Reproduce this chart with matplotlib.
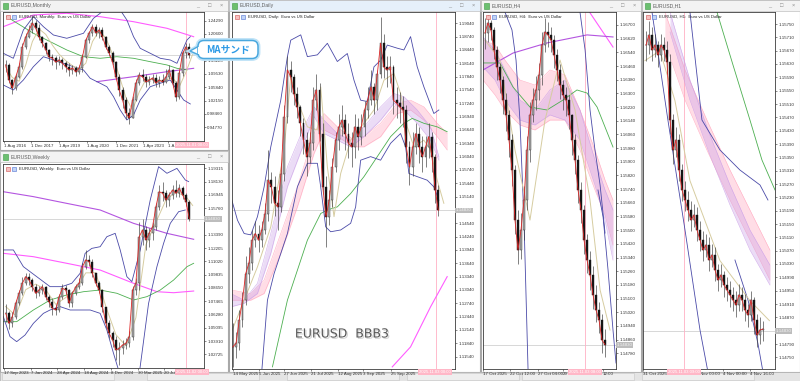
import numpy as np
import matplotlib
matplotlib.use("Agg")
import matplotlib.pyplot as plt
from matplotlib.patches import Rectangle, FancyBboxPatch, Polygon
import matplotlib.patheffects as pe

plt.rcParams['font.family'] = ['Liberation Sans', 'Noto Sans CJK JP', 'DejaVu Sans']

CUR = 1.14830  # current bid (grey line / grey box)

# ---------------- Monthly ----------------
m_close = [1.120, 1.078, 1.056, 1.087, 1.115, 1.170, 1.198, 1.217, 1.236, 1.222,
           1.198, 1.181, 1.162, 1.142, 1.139, 1.128, 1.134, 1.125, 1.115, 1.106,
           1.112, 1.101, 1.112, 1.142, 1.189, 1.209, 1.226, 1.209, 1.217, 1.198,
           1.170, 1.153, 1.128, 1.087, 1.051, 1.023, 0.987, 0.973, 1.023, 1.070,
           1.092, 1.087, 1.073, 1.078, 1.084, 1.070, 1.078, 1.073, 1.087, 1.106,
           1.070, 1.031, 1.098, 1.153, 1.170, 1.1483]
m_high = [1.135, 1.125, 1.080, 1.095, 1.125, 1.180, 1.210, 1.230, 1.255, 1.245,
          1.235, 1.200, 1.185, 1.165, 1.150, 1.145, 1.145, 1.140, 1.130, 1.125,
          1.120, 1.118, 1.120, 1.150, 1.195, 1.215, 1.235, 1.235, 1.225, 1.225,
          1.200, 1.175, 1.160, 1.130, 1.095, 1.060, 1.030, 1.000, 1.035, 1.080,
          1.100, 1.110, 1.095, 1.090, 1.095, 1.095, 1.090, 1.095, 1.110, 1.120,
          1.110, 1.075, 1.105, 1.160, 1.180, 1.180]
m_low = [1.100, 1.070, 1.040, 1.050, 1.085, 1.110, 1.165, 1.195, 1.210, 1.215,
         1.190, 1.170, 1.150, 1.130, 1.120, 1.110, 1.120, 1.110, 1.100, 1.090,
         1.095, 1.090, 1.095, 1.100, 1.140, 1.180, 1.200, 1.200, 1.195, 1.190,
         1.165, 1.145, 1.120, 1.080, 1.035, 1.000, 0.970, 0.955, 0.975, 1.020,
         1.065, 1.075, 1.060, 1.065, 1.070, 1.060, 1.060, 1.065, 1.070, 1.080,
         1.060, 1.020, 1.025, 1.090, 1.140, 1.140]
m_tan_x = [1, 5, 9, 13, 17, 21, 25, 29, 33, 37, 41, 45, 49, 53, 57, 61, 65, 69, 73,
           77, 81, 85, 89, 93, 97, 101, 105, 109, 113]
m_tan = [1.115, 1.085, 1.075, 1.120, 1.185, 1.220, 1.205, 1.175, 1.150, 1.132,
         1.118, 1.108, 1.125, 1.185, 1.215, 1.195, 1.150, 1.090, 1.030, 0.995,
         1.045, 1.080, 1.080, 1.077, 1.078, 1.085, 1.060, 1.100, 1.150]
m_pink_x = [-0.4, 17.6, 37.6, 57.6, 77.6, 97.6, 113.6]
m_pink = [1.2263, 1.2587, 1.2634, 1.2540, 1.2401, 1.2218, 1.1985]
m_purple_x = [55.6, 77.6, 97.6, 113.6]
m_purple = [1.0737, 1.0876, 1.1015, 1.1108]
m_green_x = [1.6, 17.6, 37.6, 47.6, 57.6, 67.6, 77.6, 87.6, 97.6, 103.6, 109.6]
m_green = [1.2540, 1.2080, 1.1617, 1.1430, 1.1386, 1.1430, 1.1386, 1.1292, 1.1201,
           1.1108, 1.1062]
m_bbu_x = [-0.4, 5.6, 11.6, 17.6, 23.6, 29.6, 37.6, 47.6, 53.6, 57.6, 63.6, 69.6,
           73.6, 77.6, 81.6, 87.6, 93.6, 99.6, 103.6, 109.6, 111.6]
m_bbu = [1.1525, 1.1386, 1.2171, 1.2540, 1.2263, 1.2032, 1.1941, 1.2079, 1.2496,
         1.2634, 1.2912, 1.2726, 1.2448, 1.1985, 1.1663, 1.1525, 1.1386, 1.1339,
         1.1247, 1.1894, 1.1985]
m_bbl_x = [-0.4, 5.6, 11.6, 17.6, 23.6, 29.6, 35.6, 41.6, 47.6, 51.6, 57.6, 61.6,
           65.6, 69.6, 73.6, 77.6, 81.6, 87.6, 93.6, 99.6, 103.6, 107.6, 111.6]
m_bbl = [1.0645, 1.0507, 1.0784, 1.1153, 1.1430, 1.1339, 1.1247, 1.1153, 1.1062,
         1.0832, 1.0693, 1.0598, 1.0322, 0.9952, 0.9675, 0.9813, 1.0229, 1.0598,
         1.0693, 1.0784, 1.0507, 1.0229, 1.0119]
m_yticks = [1.24290, 1.20600, 1.13220, 1.09530, 1.05840, 1.02150, 0.98460, 0.94770]
m_xticks = [0, 16, 33, 50, 67, 83, 98.5]
m_xlabels = ['1 Aug 2016', '1 Dec 2017', '1 Apr 2019', '1 Aug 2020', '1 Dec 2021',
             '1 Apr 2023', '1 A']

# ---------------- Weekly ----------------
w_close = [1.0639, 1.0550, 1.0610, 1.0728, 1.0818, 1.0907, 1.0966, 1.0936, 1.0877, 1.0818,
           1.0847, 1.0877, 1.0788, 1.0743, 1.0684, 1.0669, 1.0788, 1.0862, 1.0847, 1.0728,
           1.0818, 1.0877, 1.0907, 1.1055, 1.1115, 1.1100, 1.0996, 1.0907, 1.0847, 1.0699,
           1.0550, 1.0461, 1.0402, 1.0313, 1.0327, 1.0357, 1.0372, 1.0432, 1.0847, 1.0907,
           1.1322, 1.1382, 1.1293, 1.1352, 1.1412, 1.1590, 1.1723, 1.1709, 1.1649, 1.1694,
           1.1738, 1.1709, 1.1753, 1.1694, 1.1634, 1.1483]
w_high = [1.0720, 1.0660, 1.0650, 1.0760, 1.0850, 1.0960, 1.1000, 1.1000, 1.0950, 1.0900,
          1.0880, 1.0900, 1.0880, 1.0800, 1.0780, 1.0720, 1.0810, 1.0900, 1.0890, 1.0860,
          1.0840, 1.0900, 1.0950, 1.1090, 1.1200, 1.1160, 1.1120, 1.1000, 1.0930, 1.0860,
          1.0700, 1.0580, 1.0480, 1.0440, 1.0380, 1.0400, 1.0420, 1.0480, 1.0880, 1.0950,
          1.1450, 1.1480, 1.1420, 1.1400, 1.1450, 1.1620, 1.1780, 1.1810, 1.1740, 1.1720,
          1.1780, 1.1830, 1.1790, 1.1770, 1.1710, 1.1650]
w_low = [1.0560, 1.0500, 1.0520, 1.0590, 1.0710, 1.0800, 1.0890, 1.0890, 1.0840, 1.0780,
         1.0790, 1.0810, 1.0760, 1.0700, 1.0620, 1.0620, 1.0650, 1.0770, 1.0810, 1.0700,
         1.0700, 1.0800, 1.0860, 1.0890, 1.1030, 1.1060, 1.0960, 1.0880, 1.0820, 1.0650,
         1.0510, 1.0420, 1.0340, 1.0220, 1.0180, 1.0280, 1.0320, 1.0340, 1.0400, 1.0800,
         1.0850, 1.1250, 1.1200, 1.1230, 1.1290, 1.1380, 1.1560, 1.1640, 1.1590, 1.1600,
         1.1660, 1.1680, 1.1680, 1.1660, 1.1600, 1.1460]
w_tan_x = [1, 7, 13, 19, 25, 31, 37, 43, 49, 55, 61, 67, 73, 79, 85, 91, 97, 103, 109, 113]
w_tan = [1.070, 1.062, 1.085, 1.090, 1.085, 1.072, 1.078, 1.085, 1.100, 1.100,
         1.070, 1.045, 1.035, 1.060, 1.125, 1.145, 1.165, 1.172, 1.168, 1.160]
w_bbu_x = [-0.4, 5.6, 11.6, 19.6, 27.6, 34.6, 40.6, 45.6, 48.6, 52.6, 57.6, 61.6, 66.6,
           69.6, 73.6, 76.6, 81.6, 87.6, 92.6, 97.6, 103.6, 108.6, 110.6]
w_bbu = [1.1204, 1.1204, 1.1055, 1.0966, 1.0877, 1.0877, 1.0907, 1.0996, 1.1174, 1.1218,
         1.1233, 1.1322, 1.1352, 1.1204, 1.0966, 1.0922, 1.1204, 1.1649, 1.1946, 1.1887,
         1.1931, 1.1827, 1.1813]
w_bbl_x = [-0.4, 3.6, 7.6, 12.6, 17.6, 23.6, 27.6, 33.6, 39.6, 45.6, 51.6, 57.6, 61.6,
           65.6, 68.0, 77.6, 86.6, 91.6, 95.6, 99.6, 104.6, 108.6]
w_bbl = [1.0610, 1.0432, 1.0387, 1.0446, 1.0550, 1.0639, 1.0669, 1.0699, 1.0669, 1.0669,
         1.0669, 1.0639, 1.0491, 1.0283, 1.0164, 0.9719, 1.0728, 1.1055, 1.1263, 1.1441,
         1.1545, 1.1560]
w_green_x = [-0.4, 7.6, 17.6, 27.6, 37.6, 47.6, 57.6, 67.6, 77.6, 85.6, 93.6, 101.6, 109.6, 113.6]
w_green = [1.0565, 1.0565, 1.0669, 1.0758, 1.0803, 1.0832, 1.0847, 1.0818, 1.0758, 1.0788,
           1.0847, 1.0936, 1.1055, 1.1085]
w_purple_x = [-0.4, 17.6, 37.6, 57.6, 77.6, 97.6, 113.6]
w_purple = [1.1723, 1.1679, 1.1619, 1.1560, 1.1441, 1.1352, 1.1299]
w_pink_x = [-0.4, 17.6, 37.6, 57.6, 77.6, 91.6, 101.6, 113.6]
w_pink = [1.1174, 1.1144, 1.1085, 1.1025, 1.0907, 1.0832, 1.0823, 1.0838]
w_yticks = [1.19315, 1.18130, 1.16945, 1.15760, 1.13390, 1.12205, 1.11020,
            1.09835, 1.08650, 1.07465, 1.06280, 1.05095, 1.03910, 1.02725]
w_xticks = [0, 16, 32, 48, 64, 80, 96]
w_xlabels = ['17 Sep 2023', '7 Jan 2024', '28 Apr 2024', '18 Aug 2024', '8 Dec 2024',
             '30 Mar 2025', '20 Jul']

# ---------------- Daily ----------------
d_close = [1.1176, 1.1184, 1.1236, 1.1281, 1.1341, 1.1364, 1.1416, 1.1431, 1.1416, 1.1439,
           1.1476, 1.1551, 1.1536, 1.1499, 1.1491, 1.1566, 1.1694, 1.1799, 1.1784, 1.1746,
           1.1716, 1.1679, 1.1641, 1.1604, 1.1634, 1.1731, 1.1754, 1.1656, 1.1536, 1.1469,
           1.1506, 1.1581, 1.1641, 1.1671, 1.1686, 1.1656, 1.1634, 1.1626, 1.1671, 1.1649,
           1.1671, 1.1709, 1.1731, 1.1761, 1.1731, 1.1791, 1.1859, 1.1806, 1.1799, 1.1806,
           1.1731, 1.1724, 1.1716, 1.1709, 1.1626, 1.1581, 1.1626, 1.1656, 1.1626, 1.1604,
           1.1626, 1.1649, 1.1604, 1.1529, 1.1483]
d_high = [1.1230, 1.1210, 1.1260, 1.1300, 1.1380, 1.1400, 1.1440, 1.1460, 1.1450, 1.1460,
          1.1500, 1.1620, 1.1570, 1.1560, 1.1530, 1.1590, 1.1720, 1.1830, 1.1820, 1.1790,
          1.1760, 1.1720, 1.1690, 1.1660, 1.1660, 1.1760, 1.1790, 1.1770, 1.1680, 1.1560,
          1.1530, 1.1600, 1.1660, 1.1700, 1.1720, 1.1700, 1.1680, 1.1660, 1.1700, 1.1690,
          1.1700, 1.1730, 1.1760, 1.1800, 1.1770, 1.1800, 1.1918, 1.1880, 1.1830, 1.1830,
          1.1810, 1.1760, 1.1750, 1.1740, 1.1720, 1.1640, 1.1660, 1.1680, 1.1670, 1.1650,
          1.1650, 1.1680, 1.1660, 1.1610, 1.1540]
d_low = [1.1130, 1.1150, 1.1170, 1.1220, 1.1270, 1.1320, 1.1350, 1.1400, 1.1390, 1.1400,
         1.1430, 1.1460, 1.1500, 1.1470, 1.1440, 1.1480, 1.1550, 1.1680, 1.1750, 1.1720,
         1.1690, 1.1650, 1.1610, 1.1560, 1.1590, 1.1620, 1.1710, 1.1640, 1.1520, 1.1400,
         1.1450, 1.1490, 1.1570, 1.1620, 1.1650, 1.1620, 1.1600, 1.1580, 1.1600, 1.1620,
         1.1630, 1.1650, 1.1690, 1.1720, 1.1700, 1.1710, 1.1780, 1.1780, 1.1760, 1.1770,
         1.1700, 1.1690, 1.1680, 1.1670, 1.1590, 1.1540, 1.1560, 1.1610, 1.1590, 1.1570,
         1.1580, 1.1600, 1.1570, 1.1500, 1.1470]
d_bbu_x = [-1.2, 2.8, 6.8, 10.8, 14.8, 18.8, 22.8, 28.8, 32.8, 34.8, 38.8, 40.8, 44.8, 50.8,
           56.8, 62.8, 68.8, 72.8, 76.8, 80.8, 84.8, 88.8, 92.8, 98.8, 102.8, 106.8, 110.8,
           114.8, 120.8, 123.8]
d_bbu = [1.1514, 1.1461, 1.1431, 1.1428, 1.1469, 1.1536, 1.1626, 1.1731, 1.1829, 1.1866,
         1.1874, 1.1878, 1.1829, 1.1833, 1.1859, 1.1818, 1.1836, 1.1776, 1.1731, 1.1728,
         1.1806, 1.1821, 1.1855, 1.1848, 1.1844, 1.1874, 1.1806, 1.1761, 1.1701, 1.1709]
d_bbl_x = [16.8, 20.8, 24.8, 28.8, 32.8, 38.8, 44.8, 50.8, 52.8, 55.8, 58.8, 64.8, 70.8,
           73.8, 76.8, 82.8, 88.8, 94.8, 100.8, 103.8, 105.8, 110.8, 116.8, 120.8, 123.8]
d_bbl = [1.1094, 1.1281, 1.1341, 1.1386, 1.1431, 1.1536, 1.1589, 1.1589, 1.1536, 1.1446,
         1.1435, 1.1439, 1.1454, 1.1491, 1.1596, 1.1604, 1.1596, 1.1634, 1.1656, 1.1626,
         1.1566, 1.1559, 1.1551, 1.1536, 1.1506]
d_green_x = [23.8, 32.8, 44.8, 52.8, 56.8, 62.8, 70.8, 78.8, 86.8, 94.8, 102.8, 107.8,
             114.8, 122.8, 128.8]
d_green = [1.1131, 1.1281, 1.1416, 1.1476, 1.1484, 1.1491, 1.1521, 1.1559, 1.1604, 1.1649,
           1.1679, 1.1690, 1.1679, 1.1671, 1.1660]
d_magenta_x = [95.8, 106.8, 118.8, 128.8]
d_magenta = [1.1131, 1.1176, 1.1266, 1.1334]
d_pink_x = [-1.2, 10.8, 18.8, 28.8, 38.8, 48.8, 54.8, 62.8, 72.8, 78.8, 88.8, 98.8, 106.8,
            114.8, 122.8, 128.8]
d_pink_hi = [1.1304, 1.1296, 1.1326, 1.1431, 1.1536, 1.1656, 1.1701, 1.1671, 1.1641, 1.1649,
             1.1679, 1.1724, 1.1731, 1.1716, 1.1679, 1.1656]
d_pink_lo = [1.1281, 1.1281, 1.1296, 1.1386, 1.1491, 1.1611, 1.1664, 1.1649, 1.1626, 1.1626,
             1.1649, 1.1701, 1.1709, 1.1686, 1.1649, 1.1619]
d_lav_x = [-1.2, 6.8, 14.8, 22.8, 32.8, 42.8, 48.8, 54.8, 62.8, 70.8, 78.8, 88.8, 96.8,
           102.8, 110.8, 118.8, 123.8]
d_lav_hi = [1.1296, 1.1281, 1.1319, 1.1431, 1.1581, 1.1671, 1.1716, 1.1686, 1.1656, 1.1641,
            1.1671, 1.1716, 1.1746, 1.1739, 1.1709, 1.1671, 1.1604]
d_lav_lo = [1.1266, 1.1274, 1.1296, 1.1386, 1.1536, 1.1634, 1.1694, 1.1656, 1.1641, 1.1626,
            1.1649, 1.1686, 1.1724, 1.1709, 1.1679, 1.1641, 1.1596]
d_tan_x = [-1.2, 6.8, 14.8, 22.8, 30.8, 34.8, 38.8, 44.8, 50.8, 52.8, 56.8, 60.8, 64.8,
           70.8, 78.8, 84.8, 90.8, 96.8, 100.8, 104.8, 108.8, 114.8, 118.8, 122.8, 126.8]
d_tan = [1.1206, 1.1281, 1.1356, 1.1446, 1.1619, 1.1784, 1.1731, 1.1671, 1.1664, 1.1761,
         1.1581, 1.1469, 1.1566, 1.1641, 1.1679, 1.1709, 1.1776, 1.1791, 1.1746, 1.1671,
         1.1626, 1.1641, 1.1619, 1.1551, 1.1499]
d_yticks = [1.19040, 1.18740, 1.18440, 1.18140, 1.17840, 1.17540, 1.17240, 1.16940,
            1.16640, 1.16340, 1.16040, 1.15740, 1.15440, 1.15140, 1.14540,
            1.14240, 1.13940, 1.13640, 1.13340, 1.13040, 1.12740, 1.12440, 1.12140,
            1.11840, 1.11540]
d_xticks = [0, 16, 31, 47, 63, 78, 95]
d_xlabels = ['14 May 2025', '5 Jun 2025', '27 Jun 2025', '21 Jul 2025', '12 Aug 2025',
             '3 Sep 2025', '25 Sep 2025']

# ---------------- H4 ----------------
h4_close = [1.16653, 1.16712, 1.16671, 1.16554, 1.16454, 1.16378, 1.16261, 1.16174, 1.16027,
            1.15852, 1.15559, 1.15384, 1.15501, 1.15676, 1.15969, 1.16174, 1.16261, 1.16320,
            1.16408, 1.16583, 1.16659, 1.16642, 1.16612, 1.16525, 1.16437, 1.16349, 1.16291,
            1.16261, 1.16174, 1.16027, 1.15910, 1.15735, 1.15618, 1.15442, 1.15325, 1.15238,
            1.15121, 1.15033, 1.14974, 1.14857, 1.14830]
h4_high = [1.16740, 1.16760, 1.16730, 1.16690, 1.16580, 1.16480, 1.16400, 1.16300, 1.16200,
           1.16060, 1.15880, 1.15620, 1.15600, 1.15760, 1.16050, 1.16250, 1.16330, 1.16400,
           1.16480, 1.16660, 1.16740, 1.16720, 1.16690, 1.16640, 1.16560, 1.16470, 1.16380,
           1.16340, 1.16290, 1.16180, 1.16060, 1.15940, 1.15780, 1.15650, 1.15480, 1.15380,
           1.15290, 1.15180, 1.15080, 1.15010, 1.14920]
h4_low = [1.16560, 1.16600, 1.16610, 1.16500, 1.16380, 1.16300, 1.16180, 1.16080, 1.15930,
          1.15760, 1.15480, 1.15300, 1.15330, 1.15440, 1.15620, 1.15900, 1.16130, 1.16200,
          1.16260, 1.16350, 1.16540, 1.16570, 1.16540, 1.16450, 1.16370, 1.16270, 1.16200,
          1.16170, 1.16090, 1.15940, 1.15830, 1.15660, 1.15540, 1.15360, 1.15250, 1.15150,
          1.15040, 1.14960, 1.14900, 1.14780, 1.14760]
h4_rib_x = [-1.3, 6.7, 13.3, 23.3, 33.3, 43.3, 53.3, 63.3, 73.3, 80, 85.3]
h4_pink_hi = [1.16612, 1.16583, 1.16495, 1.16378, 1.16349, 1.16437, 1.16408, 1.16203, 1.15969,
              1.15793, 1.15676]
h4_pink_lo = [1.16378, 1.16291, 1.16203, 1.16115, 1.16086, 1.16144, 1.16144, 1.15969, 1.15735,
              1.15589, 1.15413]
h4_lav_hi = [1.16630, 1.16554, 1.16437, 1.16261, 1.16203, 1.16320, 1.16378, 1.16203, 1.15910,
             1.15735, 1.15618]
h4_lav_lo = [1.16454, 1.16378, 1.16261, 1.16144, 1.16115, 1.16174, 1.16144, 1.16027, 1.15764,
             1.15559, 1.15325]
h4_green_x = [-1.3, 10, 18.7, 30, 41.3, 52, 61.3, 68, 74.7, 85.3]
h4_green = [1.16478, 1.16478, 1.16337, 1.16220, 1.16203, 1.16261, 1.16320, 1.16302, 1.16220, 1.15986]
h4_purple_x = [-1.3, 18.7, 41.3, 68, 85.3]
h4_purple = [1.16437, 1.16536, 1.16595, 1.16642, 1.16630]
h4_magenta_x = [68.7, 85.3]
h4_magenta = [1.16788, 1.16571]
h4_nav1_x = [13.3, 18, 20.7, 23.3, 26, 28.7]
h4_nav1 = [1.16776, 1.16671, 1.16495, 1.16144, 1.15559, 1.14688]
h4_nav2_x = [63.3, 66.7, 70, 73.3, 76.7, 80]
h4_nav2 = [1.16776, 1.16554, 1.16203, 1.15969, 1.15764, 1.15483]
h4_nav3_x = [75.3, 78.7, 82, 85.3, 87.3]
h4_nav3 = [1.15735, 1.15577, 1.15267, 1.14916, 1.14723]
h4_tan_x = [0, 10, 20, 30, 40, 50, 60, 70, 76.7, 83.3]
h4_tan = [1.16612, 1.16495, 1.15969, 1.15559, 1.16144, 1.16495, 1.16203, 1.15676, 1.15150, 1.14916]
h4_yticks = [1.16700, 1.16620, 1.16540, 1.16460, 1.16380, 1.16300, 1.16220, 1.16140,
             1.16060, 1.15980, 1.15900, 1.15820, 1.15740, 1.15660, 1.15580, 1.15500,
             1.15420, 1.15340, 1.15260, 1.15180, 1.15100, 1.15020, 1.14940, 1.14860, 1.14780]
h4_xticks = [-1.3, 16.7, 35.3, 52, 78.7]
h4_xlabels = ['17 Oct 2025', '22 Oct 12:00', '27 Oct 04:00', '29', '12:00']

# ---------------- H1 ----------------
h1_close = [1.15687, 1.15717, 1.15672, 1.15687, 1.15657, 1.15687, 1.15672, 1.15636, 1.15462,
            1.15372, 1.15402, 1.15312, 1.15252, 1.15222, 1.15192, 1.15162, 1.15177, 1.15132,
            1.15102, 1.15072, 1.15087, 1.15042, 1.15057, 1.15012, 1.14982, 1.14997, 1.14967,
            1.14952, 1.14937, 1.14922, 1.14907, 1.14937, 1.14922, 1.14892, 1.14877, 1.14922,
            1.14862, 1.14817, 1.14832, 1.14835]
h1_high = [1.15730, 1.15760, 1.15740, 1.15720, 1.15700, 1.15720, 1.15710, 1.15700, 1.15660,
           1.15480, 1.15440, 1.15420, 1.15330, 1.15280, 1.15250, 1.15220, 1.15210, 1.15200,
           1.15160, 1.15130, 1.15120, 1.15110, 1.15090, 1.15080, 1.15030, 1.15030, 1.15010,
           1.14990, 1.14980, 1.14960, 1.14950, 1.14970, 1.14960, 1.14940, 1.14910, 1.14950,
           1.14930, 1.14880, 1.14870, 1.14860]
h1_low = [1.15640, 1.15660, 1.15640, 1.15650, 1.15620, 1.15640, 1.15640, 1.15600, 1.15420,
          1.15330, 1.15350, 1.15280, 1.15220, 1.15190, 1.15160, 1.15130, 1.15140, 1.15100,
          1.15070, 1.15040, 1.15050, 1.15010, 1.15020, 1.14980, 1.14950, 1.14960, 1.14930,
          1.14920, 1.14900, 1.14890, 1.14870, 1.14890, 1.14890, 1.14860, 1.14840, 1.14860,
          1.14820, 1.14780, 1.14790, 1.14800]
h1_pink_x = [13.3, 26.7, 41.3, 56.7, 70, 83.3]
h1_pink_hi = [1.15786, 1.15612, 1.15462, 1.15312, 1.15192, 1.15072]
h1_pink_lo = [1.15696, 1.15522, 1.15372, 1.15222, 1.15102, 1.14982]
h1_lav_x = [16.7, 30, 43.3, 56.7, 70, 83.3]
h1_lav_hi = [1.15786, 1.15582, 1.15417, 1.15267, 1.15132, 1.15027]
h1_lav_lo = [1.15726, 1.15522, 1.15357, 1.15207, 1.15072, 1.14967]
h1_navA_x = [4.7, 15.3, 26.7, 36.7, 42]
h1_navA = [1.15786, 1.15462, 1.15132, 1.14832, 1.14706]
h1_navB_x = [30, 38, 50, 63.3, 76.7, 82]
h1_navB = [1.15786, 1.15462, 1.15372, 1.15312, 1.15267, 1.15222]
h1_navC_x = [60, 68.7, 75.3, 78.7]
h1_navC = [1.15042, 1.14922, 1.14792, 1.14706]
h1_green_x = [48, 58.7, 70, 78, 86.7]
h1_green = [1.15786, 1.15627, 1.15462, 1.15342, 1.15252]
h1_tan_x = [0, 10, 20, 30, 50, 70, 83]
h1_tan = [1.15640, 1.15670, 1.15520, 1.15280, 1.15040, 1.14920, 1.14860]
h1_yticks = [1.15750, 1.15710, 1.15670, 1.15630, 1.15590, 1.15550, 1.15510, 1.15470,
             1.15430, 1.15390, 1.15350, 1.15310, 1.15270, 1.15230, 1.15190, 1.15150,
             1.15110, 1.15070, 1.15030, 1.14990, 1.14950, 1.14910, 1.14870,
             1.14790, 1.14750]
h1_xticks = [-1.3, 36.7, 52, 70]
h1_xlabels = ['31 Oct 2025', 'Nov 00:00', '4 Nov 00:00', '4 Nov 16:00']


W, H = 800, 381
fig = plt.figure(figsize=(W / 100, H / 100), dpi=100)
fig.patch.set_facecolor('#e9e9e9')

bg = fig.add_axes([0, 0, 1, 1], zorder=0)
bg.set_xlim(0, W); bg.set_ylim(H, 0); bg.axis('off')
top = fig.add_axes([0, 0, 1, 1], zorder=20)
top.set_xlim(0, W); top.set_ylim(H, 0); top.axis('off')

NAVY, GREEN, TAN, RED = '#4a4aa8', '#4caf50', '#d6cca0', '#e02828'
PINK, LAV, MAG, PURP = '#ff9fb8', '#c89be6', '#ff5cff', '#b455e0'


def window(x0, y0, x1, y1, title, active=False):
    bg.add_patch(Rectangle((x0, y0), x1 - x0, y1 - y0, fc='white', ec='#a8a8a8', lw=0.8))
    bg.add_patch(Rectangle((x0, y0), x1 - x0, 11, fc='#e6f0fa' if active else '#f3f3f3',
                           ec='#c0c0c0', lw=0.5))
    bg.add_patch(Rectangle((x0 + 3, y0 + 3), 5, 5.5, fc='#6cc070', ec='#3f9a45', lw=0.4))
    bg.text(x0 + 11, y0 + 6, title, fontsize=3.7, color='#606060', va='center')
    for dx, s in [(30, '_'), (18, '□'), (7, '×')]:
        bg.text(x1 - dx, y0 + 5.5, s, fontsize=4, color='#8a8a8a', va='center', ha='center')


def chart(box, xlim, ylim, yticks, xticks, xlabels, header, price_box=True):
    x0, y0, x1, y1 = box
    ax = fig.add_axes([x0 / W, 1 - y1 / H, (x1 - x0) / W, (y1 - y0) / H], zorder=5)
    ax.set_facecolor('white')
    ax.set_xlim(*xlim); ax.set_ylim(*ylim)
    ax.yaxis.tick_right()
    ax.set_yticks(yticks)
    ax.set_yticklabels(['%.5f' % v for v in yticks])
    ax.set_xticks(xticks)
    ax.set_xticklabels(xlabels, ha='left')
    ax.tick_params(labelsize=3.2, length=1.5, width=0.4, pad=0.8, colors='#333333')
    for s in ax.spines.values():
        s.set_linewidth(0.6); s.set_color('#3c3c3c')
    ax.axhline(CUR, color='#c8c8c8', lw=0.5, zorder=1)
    if price_box:
        ax.text(1.005, CUR, '%.5f' % CUR, transform=ax.get_yaxis_transform(), fontsize=3.2,
                color='#f4f4f4', va='center', ha='left', clip_on=False, zorder=10,
                bbox=dict(boxstyle='square,pad=0.2', fc='#bdbdbd', ec='none'))
    # header icons and symbol description
    top.add_patch(Rectangle((x0 + 3, y0 + 3), 4, 4, fc='#f6c0c0', ec='#d05050', lw=0.4))
    top.add_patch(Rectangle((x0 + 9, y0 + 3), 4, 4, fc='#c0d4f6', ec='#5070d0', lw=0.4))
    top.text(x0 + 16, y0 + 5, header, fontsize=3.1, color='#222222', va='center')
    return ax


def candles(ax, x, c, h, l, w):
    x = np.asarray(x); c = np.asarray(c)
    o = np.r_[c[0], c[:-1]]
    h = np.maximum(np.asarray(h), np.maximum(o, c))
    l = np.minimum(np.asarray(l), np.minimum(o, c))
    up = c >= o
    ax.vlines(x, l, h, colors='#3a3a3a', lw=0.45, zorder=3)
    ax.bar(x[up], (c - o)[up], bottom=o[up], width=w, color='#a8a8a8', ec='#333333', lw=0.3, zorder=4)
    ax.bar(x[~up], (o - c)[~up], bottom=c[~up], width=w, color='#151515', ec='#151515', lw=0.3, zorder=4)
    ax.plot(x, c, color=RED, lw=0.6, zorder=5)


def ribbon(ax, x, lo, hi, color):
    ax.fill_between(x, lo, hi, color=color, alpha=0.35, lw=0, zorder=2)
    ax.plot(x, hi, color=color, lw=0.4, alpha=0.8, zorder=2)
    ax.plot(x, lo, color=color, lw=0.4, alpha=0.8, zorder=2)


def cursor(ax, xpos, px, py, label):
    ax.axvline(xpos, color='#ffb0c4', lw=0.6, zorder=1)
    top.text(px, py, label, fontsize=3.1, color='white', va='center', ha='left',
             bbox=dict(boxstyle='square,pad=0.25', fc='#ffb7c7', ec='none'))


# windows
window(0, 0, 228, 150, 'EURUSD,Monthly')
window(0, 151, 228, 372, 'EURUSD,Weekly')
window(229, 0, 480, 372, 'EURUSD,Daily', active=True)
window(481, 0, 641, 372, 'EURUSD,H4')
window(642, 0, 800, 372, 'EURUSD,H1')

# bottom tab strip
bg.add_patch(Rectangle((0, 372), W, 9, fc='#e4e4e4', ec='#b0b0b0', lw=0.5))
for tx in [0, 145, 285, 405, 520, 640]:
    bg.add_patch(Rectangle((tx + 2, 373), 112, 7, fc='#eeeeee', ec='#c4c4c4', lw=0.4))

# Monthly
mx = np.arange(len(m_close)) * 2 + 1
ax = chart((3, 12, 204, 141), (-0.6, 119.8), (0.9092, 1.2670), m_yticks, m_xticks, m_xlabels,
           'EURUSD, Monthly:  Euro vs US Dollar', price_box=False)
ax.plot(m_pink_x, m_pink, color=MAG, lw=0.8, zorder=2)
ax.plot(m_purple_x, m_purple, color=PURP, lw=0.8, zorder=2)
ax.plot(m_green_x, m_green, color=GREEN, lw=0.6, zorder=2)
ax.plot(m_bbu_x, m_bbu, color=NAVY, lw=0.6, zorder=2)
ax.plot(m_bbl_x, m_bbl, color=NAVY, lw=0.6, zorder=2)
ax.plot(m_tan_x, m_tan, color=TAN, lw=0.7, zorder=2)
candles(ax, mx, m_close, m_high, m_low, 1.2)
cursor(ax, 109, 176, 145, '2025.11.01 00:00')

# Weekly
wx = np.arange(len(w_close)) * 2 + 1
ax = chart((3, 164, 204, 368), (-0.6, 119.8), (1.01522, 1.19698), w_yticks, w_xticks, w_xlabels,
           'EURUSD, Weekly:  Euro vs US Dollar')
ax.plot(w_pink_x, w_pink, color=MAG, lw=0.8, zorder=2)
ax.plot(w_purple_x, w_purple, color=PURP, lw=0.8, zorder=2)
ax.plot(w_green_x, w_green, color=GREEN, lw=0.6, zorder=2)
ax.plot(w_bbu_x, w_bbu, color=NAVY, lw=0.6, zorder=2)
ax.plot(w_bbl_x, w_bbl, color=NAVY, lw=0.6, zorder=2)
ax.plot(w_tan_x, w_tan, color=TAN, lw=0.7, zorder=2)
candles(ax, wx, w_close, w_high, w_low, 1.2)
cursor(ax, 109, 176, 372, '2025.11.02 00:00')

# Daily
dx = np.arange(len(d_close)) * 1.93
ax = chart((232, 12, 455, 369), (-0.5, 133.5), (1.11262, 1.19294), d_yticks, d_xticks, d_xlabels,
           'EURUSD, Daily:  Euro vs US Dollar')
ribbon(ax, d_pink_x, d_pink_lo, d_pink_hi, PINK)
ribbon(ax, d_lav_x, d_lav_lo, d_lav_hi, LAV)
ax.plot(d_magenta_x, d_magenta, color=MAG, lw=0.8, zorder=2)
ax.plot(d_green_x, d_green, color=GREEN, lw=0.6, zorder=2)
ax.plot(d_bbu_x, d_bbu, color=NAVY, lw=0.6, zorder=2)
ax.plot(d_bbl_x, d_bbl, color=NAVY, lw=0.6, zorder=2)
ax.plot(d_tan_x, d_tan, color=TAN, lw=0.7, zorder=2)
candles(ax, dx, d_close, d_high, d_low, 1.1)
cursor(ax, 121.9, 419, 372, '2025.11.03 00:00')

# H4
h4x = np.arange(len(h4_close)) * 2
ax = chart((483, 12, 616, 369), (-1.3, 87.3), (1.14688, 1.16776), h4_yticks, h4_xticks, h4_xlabels,
           'EURUSD, H4:  Euro vs US Dollar')
ribbon(ax, h4_rib_x, h4_pink_lo, h4_pink_hi, PINK)
ribbon(ax, h4_rib_x, h4_lav_lo, h4_lav_hi, LAV)
ax.plot(h4_magenta_x, h4_magenta, color=MAG, lw=0.8, zorder=2)
ax.plot(h4_purple_x, h4_purple, color=PURP, lw=0.8, zorder=2)
ax.plot(h4_green_x, h4_green, color=GREEN, lw=0.6, zorder=2)
ax.plot(h4_nav1_x, h4_nav1, color=NAVY, lw=0.6, zorder=2)
ax.plot(h4_nav2_x, h4_nav2, color=NAVY, lw=0.6, zorder=2)
ax.plot(h4_nav3_x, h4_nav3, color=NAVY, lw=0.6, zorder=2)
ax.plot(h4_tan_x, h4_tan, color=TAN, lw=0.7, zorder=2)
candles(ax, h4x, h4_close, h4_high, h4_low, 1.2)
cursor(ax, 66.7, 569, 372, '2025.11.03 08:00')

# H1
h1x = np.arange(len(h1_close)) * 2 + 0.7
ax = chart((643, 12, 775, 369), (-1.3, 86.7), (1.14715, 1.15786), h1_yticks, h1_xticks, h1_xlabels,
           'EURUSD, H1:  Euro vs US Dollar')
ribbon(ax, h1_pink_x, h1_pink_lo, h1_pink_hi, PINK)
ribbon(ax, h1_lav_x, h1_lav_lo, h1_lav_hi, LAV)
ax.plot(h1_green_x, h1_green, color=GREEN, lw=0.6, zorder=2)
ax.plot(h1_navA_x, h1_navA, color=NAVY, lw=0.6, zorder=2)
ax.plot(h1_navB_x, h1_navB, color=NAVY, lw=0.6, zorder=2)
ax.plot(h1_navC_x, h1_navC, color=NAVY, lw=0.6, zorder=2)
ax.plot(h1_tan_x, h1_tan, color=TAN, lw=0.7, zorder=2)
candles(ax, h1x, h1_close, h1_high, h1_low, 1.2)
cursor(ax, 26, 668, 372, '2025.11.03 09:00')

# "MA サンド" callout
top.add_patch(FancyBboxPatch((198, 40.5), 60, 18, boxstyle='round,pad=0,rounding_size=6',
                             fc='none', ec='#bfe3f7', lw=3.5, zorder=1))
top.add_patch(Polygon([[199, 46], [190, 51], [199, 55]], closed=True, fc='#bfe3f7', ec='#bfe3f7', lw=3))
top.add_patch(Polygon([[199, 46], [190, 51], [199, 55]], closed=True, fc='white', ec='#4aa8de', lw=1))
top.add_patch(FancyBboxPatch((198, 40.5), 60, 18, boxstyle='round,pad=0,rounding_size=6',
                             fc='white', ec='#4aa8de', lw=1.1, zorder=3))
top.add_patch(Rectangle((197.5, 46.8), 2.5, 7.4, fc='white', ec='none', zorder=4))
top.text(228, 49.8, 'MAサンド', fontsize=7, color='#2e9be6', ha='center', va='center',
         fontweight='bold', family=['Noto Sans CJK JP', 'DejaVu Sans'], zorder=5)

# watermark label on the daily chart
top.text(342, 334, 'EURUSD  BBB3', fontsize=9, color='#585858', ha='center', va='center',
         family=['DejaVu Sans'],
         path_effects=[pe.withSimplePatchShadow(offset=(1, -1), shadow_rgbFace='#bbbbbb', alpha=0.6)])

fig.savefig('out.png', dpi=100, facecolor=fig.get_facecolor())
